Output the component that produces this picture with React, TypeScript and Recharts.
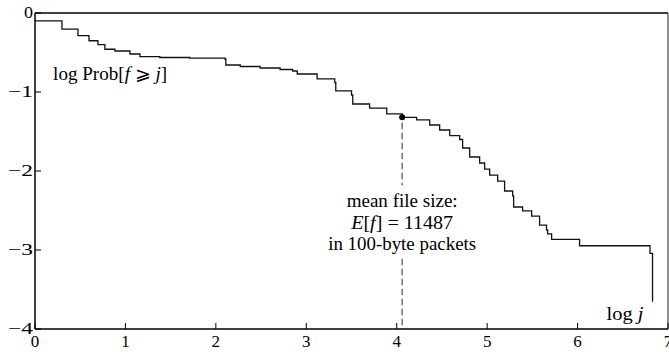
import { LineChart, Line, XAxis, YAxis, ReferenceLine, ReferenceDot } from 'recharts';

// log10 of file size (in 100-byte packets) and log10 of the tail probability
const logJ = [
  0, 0.298, 0.475, 0.597, 0.696, 0.773, 0.884, 1.05, 1.16, 1.38, 1.71, 2.1, 2.11, 2.27, 2.49, 2.71,
  2.85, 2.9, 3.12, 3.315, 3.326, 3.5, 3.514, 3.7, 3.89, 4.06, 4.22, 4.365, 4.475, 4.586, 4.696, 4.729,
  4.807, 4.917, 4.972, 5.028, 5.116, 5.193, 5.282, 5.293, 5.392, 5.492, 5.58, 5.657, 5.669, 5.713,
  6.022, 6.801, 6.829,
];
const logProb = [
  -0.1, -0.203, -0.287, -0.351, -0.401, -0.459, -0.481, -0.519, -0.553, -0.563, -0.57, -0.582, -0.658,
  -0.677, -0.696, -0.715, -0.734, -0.772, -0.835, -0.882, -0.987, -1.038, -1.152, -1.203, -1.278, -1.32,
  -1.354, -1.418, -1.481, -1.551, -1.601, -1.709, -1.823, -1.899, -1.975, -2.051, -2.127, -2.253, -2.316,
  -2.456, -2.506, -2.57, -2.684, -2.747, -2.797, -2.865, -2.946, -3.042, -3.654,
];

const xTicks = [0, 1, 2, 3, 4, 5, 6, 7];
const yTicks = [-4, -3, -2, -1, 0];

// mean file size 11487 packets -> log10
const meanLog = 4.0602;
const meanLogProb = -1.32;

const data = logJ.map((x, i) => ({ x, y: logProb[i] }));

const serif = { fontFamily: '"Liberation Serif", "Times New Roman", "DejaVu Serif", serif' };
const minus = (v: number) => (v < 0 ? `\u2212${Math.abs(v)}` : `${v}`);

const XTick = ({ x, y, payload }: any) => (
  <g>
    <line x1={x} x2={x} y1={y} y2={y - 6} stroke="#000" strokeWidth={1} />
    <text x={x} y={y + 18} textAnchor="middle" style={serif} fontSize={17} fill="#000">
      {payload.value}
    </text>
  </g>
);

const YTick = ({ x, y, payload }: any) => {
  const label = minus(payload.value);
  return (
    <g>
      <line x1={x} x2={x + 6} y1={y} y2={y} stroke="#000" strokeWidth={1} />
      <text
        x={x - 2}
        y={y + 5}
        textAnchor="end"
        style={serif}
        fontSize={16}
        fill="#000"
        textLength={label.length > 1 ? 25 : 9}
        lengthAdjust="spacingAndGlyphs"
      >
        {label}
      </text>
    </g>
  );
};

const note = (content: React.ReactNode, width: number, anchor: 'start' | 'middle' = 'start') =>
  (p: any) => (
    <text
      x={p.cx}
      y={p.cy}
      textAnchor={anchor}
      style={serif}
      fontSize={18}
      fill="#000"
      textLength={width}
      lengthAdjust="spacingAndGlyphs"
    >
      {content}
    </text>
  );

export default function App() {
  return (
    <div style={{ position: 'absolute', left: 0, top: 0, background: '#fff' }}>
      <LineChart width={669} height={354} data={data} margin={{ top: 13, right: 1, bottom: 0, left: 0 }}>
        <XAxis
          type="number"
          dataKey="x"
          domain={[0, 7]}
          ticks={xTicks}
          interval={0}
          height={25}
          tickSize={0}
          tickMargin={0}
          tickLine={false}
          axisLine={{ stroke: '#000', strokeWidth: 1.5 }}
          tick={<XTick />}
        />
        <YAxis
          type="number"
          domain={[-4, 0]}
          ticks={yTicks}
          interval={0}
          width={35}
          tickSize={0}
          tickMargin={0}
          tickLine={false}
          axisLine={{ stroke: '#000', strokeWidth: 1.5 }}
          tick={<YTick />}
        />
        <ReferenceLine y={0} stroke="#000" strokeWidth={1.5} />
        <ReferenceLine x={7} stroke="#444" strokeWidth={1.2} />
        <ReferenceLine
          segment={[{ x: meanLog, y: -1.39 }, { x: meanLog, y: -2.18 }]}
          stroke="#666"
          strokeWidth={1.4}
          strokeDasharray="6.5 3.5"
        />
        <ReferenceLine
          segment={[{ x: meanLog, y: -3.11 }, { x: meanLog, y: -4 }]}
          stroke="#666"
          strokeWidth={1.4}
          strokeDasharray="6.5 3.5"
        />
        <Line
          type="stepAfter"
          dataKey="y"
          stroke="#111"
          strokeWidth={1.3}
          dot={false}
          activeDot={false}
          isAnimationActive={false}
        />
        <ReferenceDot x={meanLog} y={meanLogProb} r={3} fill="#000" stroke="none" />
        <ReferenceDot
          x={0.2}
          y={-0.848}
          r={0}
          shape={note(
            <>
              log Prob[<tspan fontStyle="italic">f</tspan> ⩾ <tspan fontStyle="italic">j</tspan>]
            </>,
            114,
          )}
        />
        <ReferenceDot
          x={6.32}
          y={-3.886}
          r={0}
          shape={note(
            <>
              log <tspan fontStyle="italic">j</tspan>
            </>,
            37,
          )}
        />
        <ReferenceDot x={meanLog} y={-2.456} r={0} shape={note('mean file size:', 111, 'middle')} />
        <ReferenceDot
          x={meanLog}
          y={-2.734}
          r={0}
          shape={note(
            <>
              <tspan fontStyle="italic">E</tspan>[<tspan fontStyle="italic">f</tspan>] = 11487
            </>,
            102,
            'middle',
          )}
        />
        <ReferenceDot x={meanLog} y={-3.0} r={0} shape={note('in 100-byte packets', 148, 'middle')} />
      </LineChart>
    </div>
  );
}
